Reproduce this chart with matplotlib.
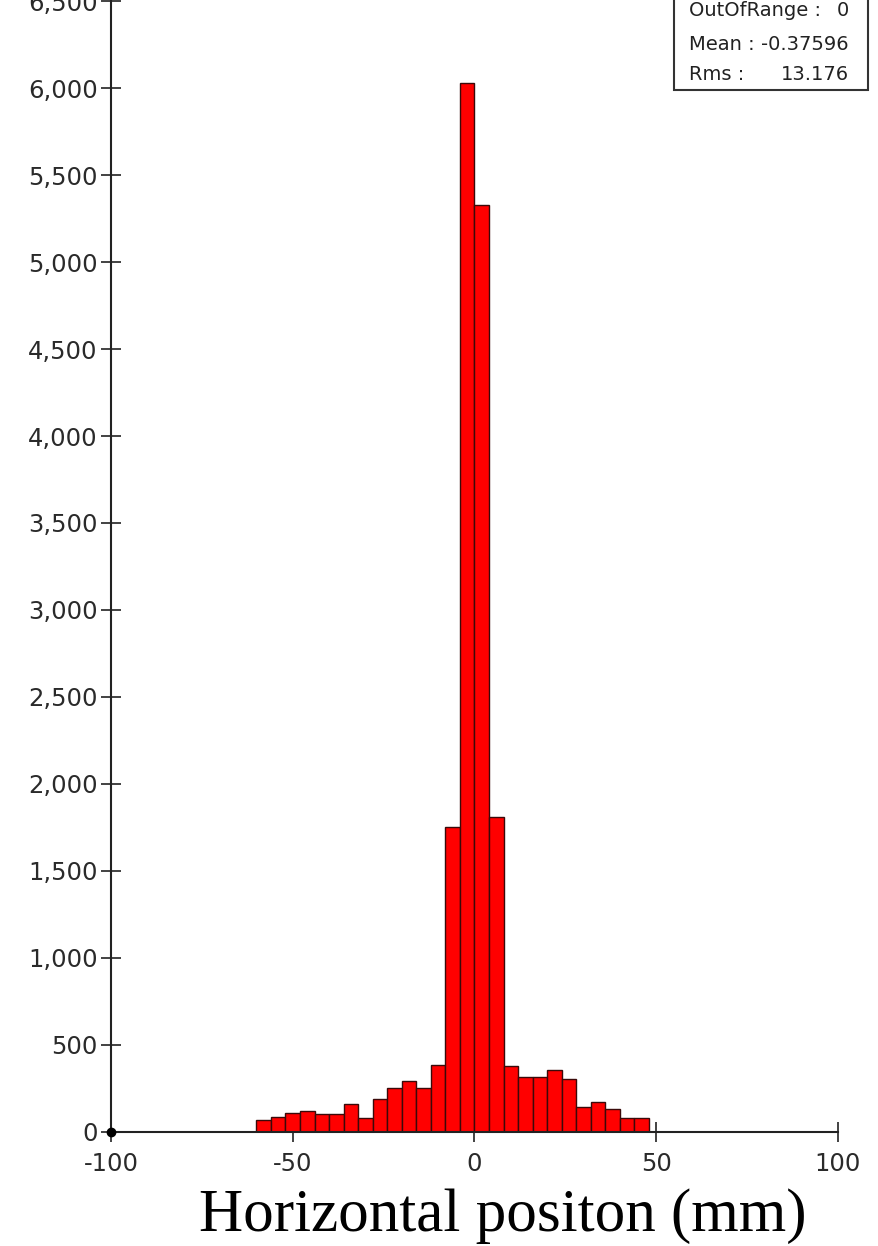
import matplotlib
matplotlib.use("Agg")
import matplotlib.pyplot as plt
from matplotlib.ticker import FuncFormatter
from matplotlib.patches import Rectangle

# ---- data ----
bin_edges = [-60, -56, -52, -48, -44, -40, -36, -32, -28, -24, -20, -16, -12, -8, -4,
             0, 4, 8, 12, 16, 20, 24, 28, 32, 36, 40, 44, 48]
counts = [67, 83, 105, 119, 102, 102, 157, 80, 186, 249, 291, 249, 382, 1751, 6030,
          5329, 1811, 380, 313, 313, 355, 303, 144, 173, 130, 77, 77]
x_ticks = [-100, -50, 0, 50, 100]
y_ticks = [0, 500, 1000, 1500, 2000, 2500, 3000, 3500, 4000, 4500, 5000, 5500, 6000, 6500]
stats_lines = [("OutOfRange :", "0"), ("Mean :", "-0.37596"), ("Rms :", "13.176")]
x_label = "Horizontal positon (mm)"

W, H = 879, 1246
fig = plt.figure(figsize=(W / 100, H / 100), dpi=100)
fig.patch.set_facecolor("white")

ax_left, ax_right = 111 / W, 838 / W
ax_bottom = 1 - 1131.7 / H
ax = fig.add_axes([ax_left, ax_bottom, ax_right - ax_left, 1 - ax_bottom])

widths = [bin_edges[i + 1] - bin_edges[i] for i in range(len(counts))]
ax.bar(bin_edges[:-1], counts, width=widths, align="edge",
       color="#ff0000", edgecolor="#3a0a0a", linewidth=1.0, zorder=2)

ax.set_xlim(-100, 100)
ax.set_ylim(0, 6507)
ax.set_xticks(x_ticks)
ax.set_yticks(y_ticks)
ax.yaxis.set_major_formatter(FuncFormatter(lambda v, p: f"{int(v):,}"))
ax.xaxis.set_major_formatter(FuncFormatter(lambda v, p: f"{int(v)}"))

for s in ["top", "right"]:
    ax.spines[s].set_visible(False)
for s in ["left", "bottom"]:
    ax.spines[s].set_color("#222222")
    ax.spines[s].set_linewidth(1.5)
    ax.spines[s].set_zorder(3)

ax.tick_params(axis="both", direction="inout", length=15, width=1.2, color="#222222",
               labelsize=17.5, labelcolor="#2a2a2a")
ax.tick_params(axis="y", pad=2)
ax.tick_params(axis="x", pad=7)
for lab in ax.get_xticklabels() + ax.get_yticklabels():
    lab.set_fontfamily("DejaVu Sans")

# origin dot
ax.plot([-100], [0], marker="o", markersize=6, color="black", clip_on=False, zorder=4)

# stats box (cut at top of the image)
bx0, bx1 = 674 / W, 868 / W
by0, by1 = 1 - 90 / H, 1.02
fig.patches.append(Rectangle((bx0, by0), bx1 - bx0, by1 - by0, transform=fig.transFigure,
                             facecolor="white", edgecolor="#333333", linewidth=1.5))
line_y = [10, 45, 75]
for (k, v), yy in zip(stats_lines, line_y):
    fig.text(689 / W, 1 - yy / H, k, ha="left", va="center", fontsize=14,
             family="DejaVu Sans", color="#222222")
    fig.text(849 / W, 1 - yy / H, v, ha="right", va="center", fontsize=14,
             family="DejaVu Sans", color="#222222")

fig.text(503 / W, 1 - 1216 / H, x_label, ha="center", va="center", fontsize=44,
         family="Liberation Serif", color="black")

fig.savefig("out.png", dpi=100, facecolor="white")
